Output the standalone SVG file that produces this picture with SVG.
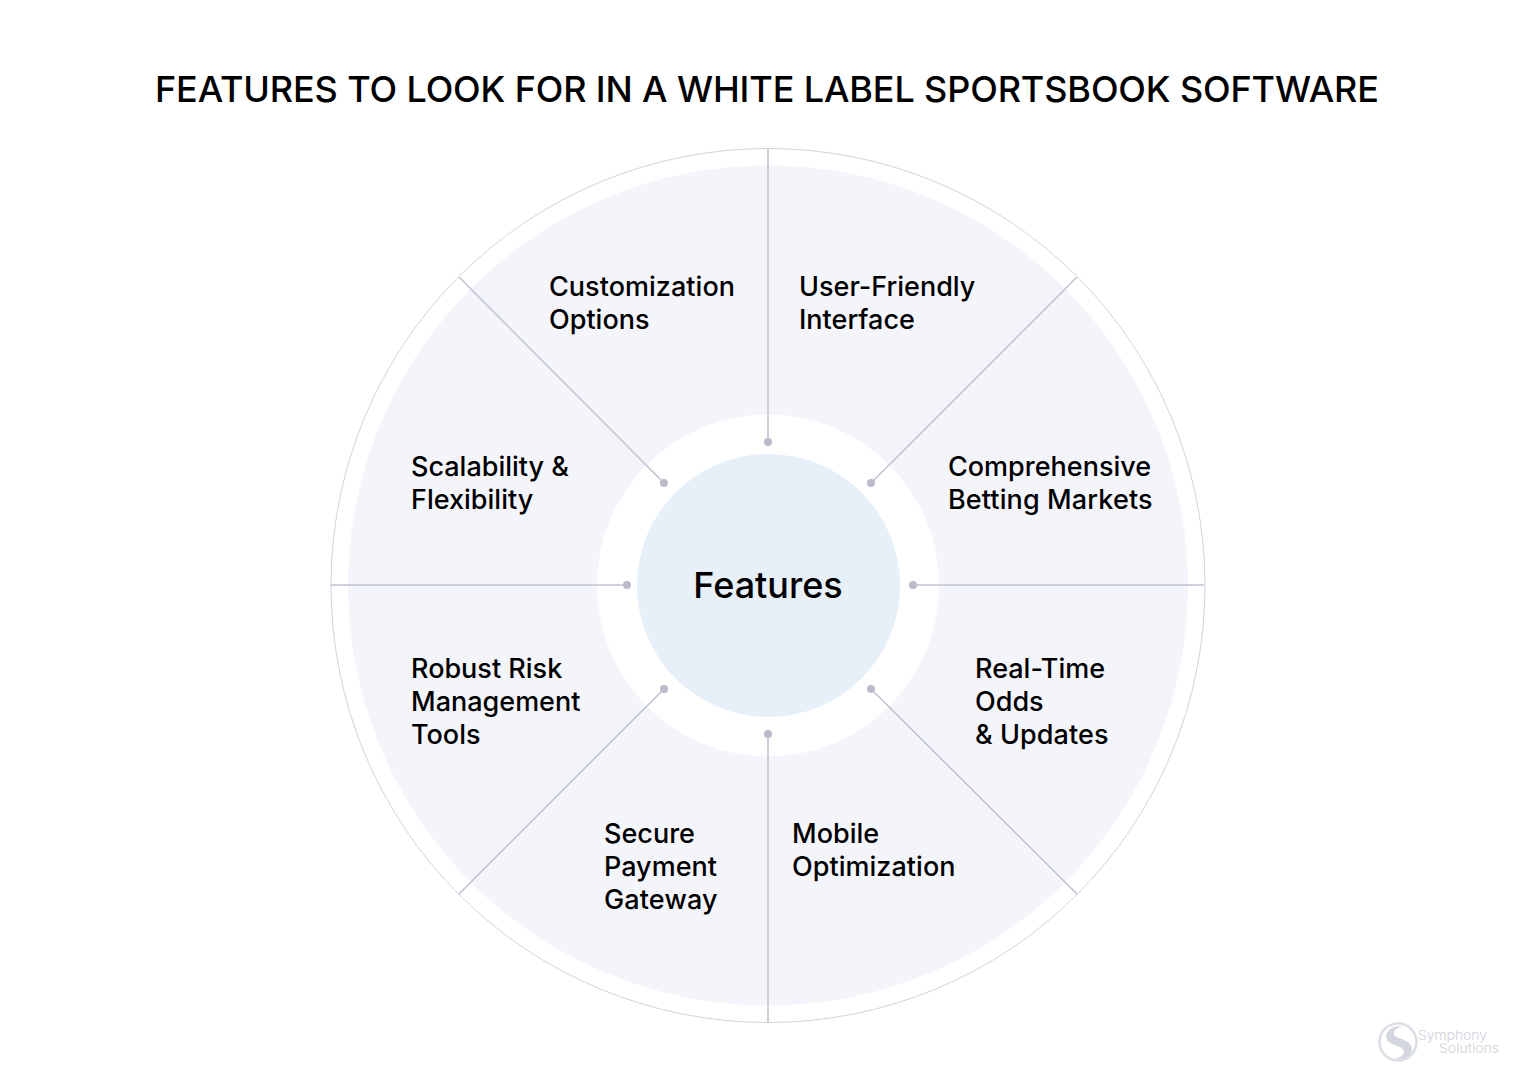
<svg xmlns="http://www.w3.org/2000/svg" width="1536" height="1082" viewBox="0 0 1536 1082">
<style>
text{font-family:Inter,"Liberation Sans",sans-serif;fill:#000;font-weight:450}
.l{font-size:27px}
.s{stroke:#bfc1cf;stroke-width:1.5;fill:none}
.d{fill:#b9bbca}
.g{font-weight:300;font-size:13px;fill:#cfd1db}
</style>
<rect width="1536" height="1082" fill="#fff"/>
<text x="767" y="102" font-size="36" text-anchor="middle" textLength="1224" lengthAdjust="spacing">FEATURES TO LOOK FOR IN A WHITE LABEL SPORTSBOOK SOFTWARE</text>
<g id="wheel">
<circle cx="768" cy="585.500" r="437" fill="#fff" stroke="#d3d4dc" stroke-width="1"/>
<circle cx="768" cy="585.500" r="420" fill="#f4f5fa"/>
<circle cx="768" cy="585.500" r="171" fill="#fff"/>
</g>
<g id="connectors">
<path class="s" d="M768 149V442M768 1022V734M331 585H627M1204 585H913M459 277L664 483M1077 277L871 483M459 894L664 689M1077 894L871 689"/>
<circle class="d" cx="768" cy="442" r="4"/><circle class="d" cx="768" cy="734" r="4"/>
<circle class="d" cx="627" cy="585" r="4"/><circle class="d" cx="913" cy="585" r="4"/>
<circle class="d" cx="664" cy="483" r="4"/><circle class="d" cx="871" cy="483" r="4"/>
<circle class="d" cx="664" cy="689" r="4"/><circle class="d" cx="871" cy="689" r="4"/>
</g>
<g id="center"><circle cx="768.500" cy="585.500" r="131.500" fill="#e7eff9"/><text x="768" y="598" font-size="36" text-anchor="middle">Features</text></g>
<g id="n1"><text class="l" x="799" y="295.500">User-Friendly</text><text class="l" x="799" y="328.500">Interface</text></g>
<g id="n2"><text class="l" x="948" y="475.500">Comprehensive</text><text class="l" x="948" y="508.500" textLength="204.500">Betting Markets</text></g>
<g id="n3"><text class="l" x="975" y="678">Real-Time</text><text class="l" x="975" y="711">Odds</text><text class="l" x="975" y="744" textLength="133.500">&amp; Updates</text></g>
<g id="n4"><text class="l" x="792" y="843">Mobile</text><text class="l" x="792" y="876" textLength="163.500">Optimization</text></g>
<g id="n5"><text class="l" x="604" y="843">Secure</text><text class="l" x="604" y="876">Payment</text><text class="l" x="604" y="909" textLength="113.500">Gateway</text></g>
<g id="n6"><text class="l" x="411" y="678">Robust Risk</text><text class="l" x="411" y="711">Management</text><text class="l" x="411" y="744">Tools</text></g>
<g id="n7"><text class="l" x="411" y="475.500">Scalability &amp;</text><text class="l" x="411" y="508.500">Flexibility</text></g>
<g id="n8"><text class="l" x="549" y="295.500" textLength="186">Customization</text><text class="l" x="549" y="328.500">Options</text></g>
<g id="logo">
<circle cx="1398" cy="1042" r="18.500" fill="none" stroke="#dcdee6" stroke-width="2.500"/>
<path d="M1402 1026C1389 1025 1382 1036 1389 1042C1395 1047 1405 1046 1404 1053C1403 1056 1399 1058 1394 1058C1407 1062 1416 1052 1410 1044C1404 1037 1392 1039 1394 1032C1395 1029 1399 1027 1402 1026Z" fill="#d3d5df"/>
<text class="g" x="1418" y="1040" textLength="69" lengthAdjust="spacingAndGlyphs">Symphony</text>
<text class="g" x="1439" y="1053" textLength="60" lengthAdjust="spacingAndGlyphs">Solutions</text>
</g>
</svg>
